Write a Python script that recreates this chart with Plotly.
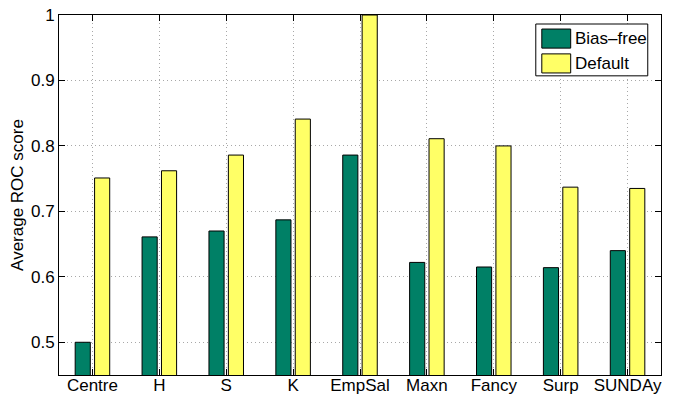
import plotly.graph_objects as go

# Average ROC score per method
methods = ["Centre", "H", "S", "K", "EmpSal", "Maxn", "Fancy", "Surp", "SUNDAy"]
bias_free = [0.500, 0.661, 0.670, 0.687, 0.786, 0.622, 0.615, 0.614, 0.640]
default = [0.751, 0.762, 0.786, 0.841, 1.000, 0.811, 0.800, 0.737, 0.735]
series_names = ["Bias\u2013free", "Default"]
y_ticks = [0.5, 0.6, 0.7, 0.8, 0.9, 1.0]
y_tick_text = ["0.5", "0.6", "0.7", "0.8", "0.9", "1"]

FONT = "Liberation Sans, Arial, Helvetica, sans-serif"
GREEN = "#008066"
YELLOW = "#ffff66"
colors = [GREEN, YELLOW]

fig = go.Figure()
for name, vals, col in zip(series_names, [bias_free, default], colors):
    fig.add_trace(go.Bar(x=methods, y=vals, name=name, showlegend=False,
                         marker=dict(color=col, line=dict(color="black", width=1))))

axis_common = dict(
    showline=True, linecolor="black", linewidth=1, mirror="ticks",
    ticks="inside", ticklen=6, tickcolor="black", tickwidth=1,
    showgrid=True, gridcolor="#a8a8a8", griddash="1px,3px", gridwidth=1,
    zeroline=False, automargin=False,
    tickfont=dict(family=FONT, size=17, color="black"),
)

# Boxed legend with wide colour swatches, drawn in paper coordinates
shapes = [dict(type="rect", xref="paper", yref="paper",
               x0=0.792, x1=0.978, y0=0.831, y1=0.975,
               line=dict(color="black", width=1), fillcolor="white", layer="above")]
annotations = []
swatch_rows = [(0.908, 0.961), (0.839, 0.892)]
for (y0, y1), name, col in zip(swatch_rows, series_names, colors):
    shapes.append(dict(type="rect", xref="paper", yref="paper",
                       x0=0.802, x1=0.850, y0=y0, y1=y1,
                       line=dict(color="black", width=1), fillcolor=col, layer="above"))
    annotations.append(dict(xref="paper", yref="paper", x=0.853, y=(y0 + y1) / 2,
                            xanchor="left", yanchor="middle", showarrow=False,
                            text=name, font=dict(family=FONT, size=17, color="black")))

fig.update_layout(
    width=673, height=398,
    margin=dict(l=59, r=12, t=15, b=23),
    paper_bgcolor="white", plot_bgcolor="white",
    barmode="group", bargap=0.42, bargroupgap=0.22,
    font=dict(family=FONT, size=17, color="black"),
    xaxis=dict(**axis_common, ticklabelstandoff=-5),
    yaxis=dict(**axis_common, range=[0.45, 1.0], tickvals=y_ticks,
               ticktext=y_tick_text,
               title=dict(text="Average ROC score", standoff=3,
                          font=dict(family=FONT, size=17))),
    shapes=shapes,
    annotations=annotations,
    showlegend=False,
)

fig.write_html("out.html")
